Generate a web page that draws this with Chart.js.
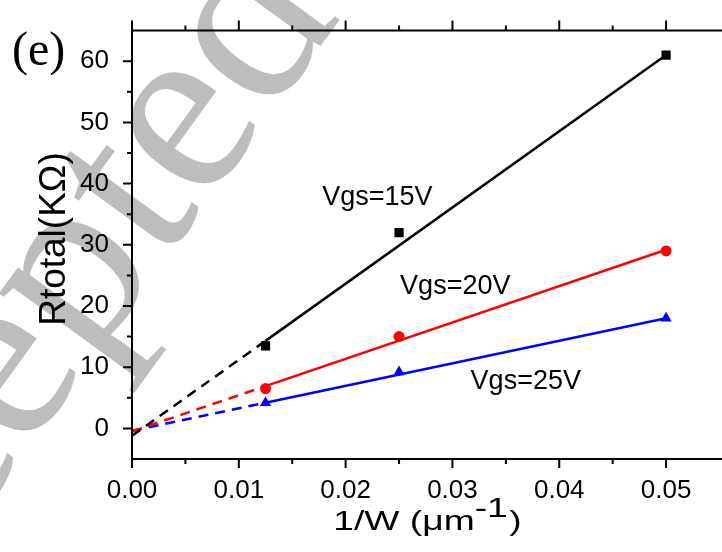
<!DOCTYPE html>
<html lang="en">
<head>
  <meta charset="UTF-8" />
  <title>Rtotal vs 1/W</title>
  <style>
    html, body { margin: 0; padding: 0; background: #fff; overflow: hidden; }
    canvas { display: block; }
  </style>
</head>
<body>
  <canvas id="rChart" width="726" height="552"></canvas>

  <script src="https://cdn.jsdelivr.net/npm/chart.js"></script>
  <script>
    // measured points
    const invW = [0.0125, 0.025, 0.05];
    const r15 = [13.5, 32, 61];
    const r20 = [6.5, 15, 29];
    const r25 = [4.2, 9.2, 18];

    // fitted lines (dashed part 0 -> 0.0125, solid after)
    const fitW = [0, 0.0125, 0.05];
    const fit15 = [-1.2, 14.3, 61];
    const fit20 = [-0.5, 6.9, 29.2];
    const fit25 = [-0.4, 4.2, 18];

    const xTicks = [0, 0.01, 0.02, 0.03, 0.04, 0.05];
    const yTicks = [0, 10, 20, 30, 40, 50, 60];

    const seriesNames = ["Vgs=15V", "Vgs=20V", "Vgs=25V"];
    const nameAnchors = [[0.0178, 36.5], [0.0251, 22], [0.0317, 6.4]];

    const toXY = (xs, ys) => xs.map((x, i) => ({ x: x, y: ys[i] }));
    const SANS = "'Liberation Sans', Arial, sans-serif";
    const SERIF = "'Liberation Serif', 'Times New Roman', serif";

    function fitLine(ys, color) {
      return {
        type: "line",
        data: toXY(fitW, ys),
        borderColor: color,
        borderWidth: 2.5,
        pointRadius: 0,
        segment: {
          borderDash: ctx => (ctx.p1DataIndex === 1 ? [10, 7] : undefined),
        },
      };
    }

    function markers(ys, color, style, r) {
      return {
        type: "line",
        data: toXY(invW, ys),
        showLine: false,
        pointStyle: style,
        pointRadius: r,
        pointBackgroundColor: color,
        pointBorderColor: color,
        pointBorderWidth: 0,
      };
    }

    const decor = {
      id: "decor",
      beforeDraw(chart) {
        // grey watermark behind the plot
        const ctx = chart.ctx;
        ctx.save();
        ctx.translate(64, 399);
        ctx.rotate(-54 * Math.PI / 180);
        ctx.font = "250px " + SERIF;
        ctx.fillStyle = "#bdbdbd";
        ctx.textAlign = "center";
        ctx.textBaseline = "alphabetic";
        ctx.fillText("Accepted", 0, 0);
        ctx.restore();
      },
      afterDraw(chart) {
        const ctx = chart.ctx;
        const a = chart.chartArea;
        const xs = chart.scales.x, ys = chart.scales.y;
        ctx.save();
        ctx.strokeStyle = "#000";
        ctx.lineWidth = 2;
        ctx.beginPath();
        ctx.moveTo(a.left, a.top); ctx.lineTo(a.left, a.bottom);
        ctx.moveTo(a.left - 1, a.bottom); ctx.lineTo(a.right + 5, a.bottom);
        ctx.moveTo(a.left - 1, a.top); ctx.lineTo(a.right + 5, a.top);
        ctx.stroke();

        // ticks: major + minor at half steps
        ctx.beginPath();
        xTicks.forEach(v => {
          const px = xs.getPixelForValue(v);
          ctx.moveTo(px, a.bottom); ctx.lineTo(px, a.bottom + 9);
          ctx.moveTo(px, a.top); ctx.lineTo(px, a.top - 10);
          const m = xs.getPixelForValue(v + 0.005);
          if (m < a.right) {
            ctx.moveTo(m, a.bottom); ctx.lineTo(m, a.bottom + 5);
            ctx.moveTo(m, a.top); ctx.lineTo(m, a.top - 5);
          }
        });
        yTicks.forEach(v => {
          const py = ys.getPixelForValue(v);
          ctx.moveTo(a.left, py); ctx.lineTo(a.left - 9, py);
          const m = ys.getPixelForValue(v - 5);
          if (m < a.bottom) { ctx.moveTo(a.left, m); ctx.lineTo(a.left - 5, m); }
        });
        const top = ys.getPixelForValue(55);
        ctx.moveTo(a.left, top); ctx.lineTo(a.left - 5, top);
        ctx.stroke();

        // series names
        ctx.fillStyle = "#000";
        ctx.font = "27px " + SANS;
        ctx.textAlign = "left";
        ctx.textBaseline = "alphabetic";
        seriesNames.forEach((t, i) => {
          ctx.fillText(t, xs.getPixelForValue(nameAnchors[i][0]), ys.getPixelForValue(nameAnchors[i][1]));
        });

        // x title, a bit stretched like the original, with raised "-1"
        ctx.save();
        const sx = 1.33;
        ctx.font = "28px " + SANS;
        const w1 = ctx.measureText("1/W (\u03bcm").width;
        const w2 = ctx.measureText("-1").width;
        const w3 = ctx.measureText(")").width;
        const total = (w1 + w2 + w3) * sx;
        ctx.translate((a.left + a.right) / 2 - total / 2 + 1, 530);
        ctx.scale(sx, 1);
        ctx.fillText("1/W (\u03bcm", 0, 0);
        ctx.fillText("-1", w1, -13);
        ctx.fillText(")", w1 + w2 + 1, 0);
        ctx.restore();

        // y title
        ctx.save();
        ctx.translate(65, 239);
        ctx.rotate(-Math.PI / 2);
        ctx.font = "37px " + SANS;
        ctx.textAlign = "center";
        ctx.fillText("Rtotal(K\u03a9)", 0, 0);
        ctx.restore();

        // panel letter
        ctx.font = "48px " + SERIF;
        ctx.textAlign = "left";
        ctx.fillText("(e)", 12, 65);
        ctx.restore();
      },
    };

    new Chart(document.getElementById("rChart"), {
      type: "line",
      data: {
        datasets: [
          markers(r15, "#000000", "rect", 6.5),
          markers(r20, "#ff0000", "circle", 5.5),
          markers(r25, "#0000ff", "triangle", 6.5),
          fitLine(fit15, "#000000"),
          fitLine(fit20, "#ff0000"),
          fitLine(fit25, "#0000ff"),
        ],
      },
      options: {
        responsive: false,
        animation: false,
        events: [],
        layout: { padding: { top: 20, right: 2, left: 0, bottom: 0 } },
        plugins: { legend: { display: false }, tooltip: { enabled: false } },
        scales: {
          x: {
            type: "linear",
            min: 0,
            max: 0.055,
            afterBuildTicks: s => { s.ticks = xTicks.map(v => ({ value: v })); },
            afterFit: s => { s.height = 93; },
            grid: { display: false },
            border: { display: false },
            ticks: {
              color: "#000",
              font: { family: SANS, size: 26 },
              padding: 8,
              maxRotation: 0,
              autoSkip: false,
              callback: v => v.toFixed(2),
            },
          },
          y: {
            min: -5,
            max: 65,
            afterBuildTicks: s => { s.ticks = yTicks.map(v => ({ value: v })); },
            afterFit: s => { s.width = 132; },
            grid: { display: false },
            border: { display: false },
            ticks: {
              color: "#000",
              font: { family: SANS, size: 26 },
              padding: 15,
            },
          },
        },
      },
      plugins: [decor],
    });
  </script>
</body>
</html>
